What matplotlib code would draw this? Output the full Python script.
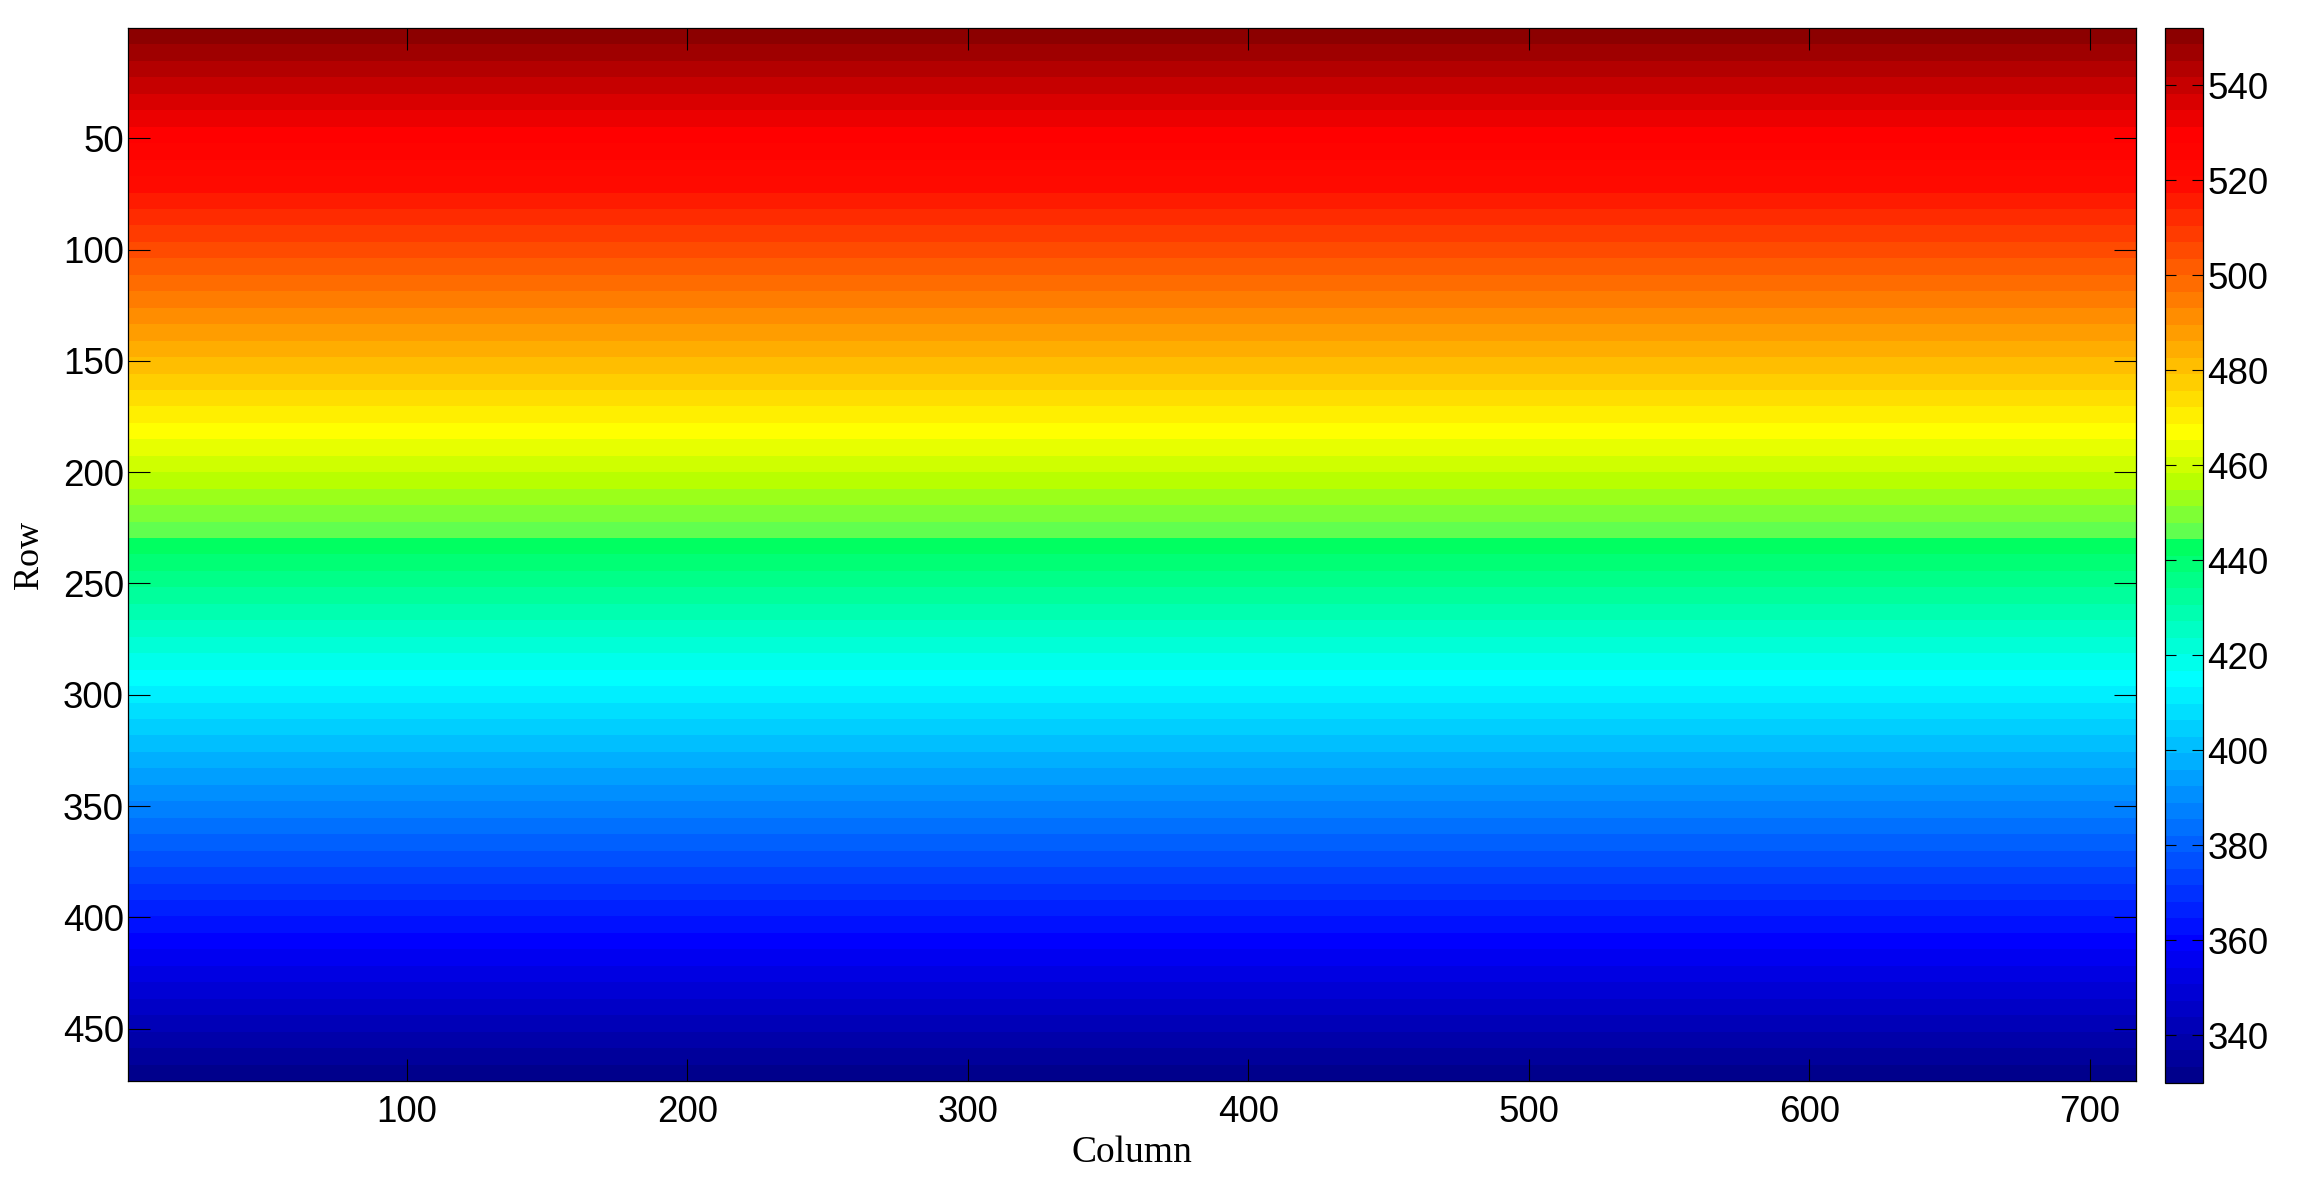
import numpy as np
import matplotlib
matplotlib.use("Agg")
import matplotlib.pyplot as plt
from matplotlib.colors import ListedColormap

# ---------------- data ----------------
# The field varies only with the row: horizontal colour strips.
column_edges = [0.5, 716.5]
row_edges = [0.5, 7.9, 15.3, 22.7, 30.1, 37.5, 44.8, 52.2, 59.6, 67.0,
             74.4, 81.8, 89.2, 96.6, 104.0, 111.4, 118.8, 126.1, 133.5, 140.9,
             148.3, 155.7, 163.1, 170.5, 177.9, 185.3, 192.7, 200.1, 207.4, 214.8,
             222.2, 229.6, 237.0, 244.4, 251.8, 259.2, 266.6, 274.0, 281.4, 288.7,
             296.1, 303.5, 310.9, 318.3, 325.7, 333.1, 340.5, 347.9, 355.3, 362.7,
             370.1, 377.4, 384.8, 392.2, 399.6, 407.0, 414.4, 421.8, 429.2, 436.6,
             444.0, 451.4, 458.8, 466.1, 473.5]
band_values = [550.3, 546.8, 543.3, 539.9, 536.4, 532.9, 529.5, 526.0,
               522.5, 519.1, 515.6, 512.1, 508.6, 505.2, 501.7, 498.2,
               494.8, 491.3, 487.8, 484.4, 480.9, 477.4, 474.0, 470.5,
               467.0, 463.6, 460.1, 456.6, 453.1, 449.7, 446.2, 442.7,
               439.3, 435.8, 432.3, 428.9, 425.4, 421.9, 418.5, 415.0,
               411.5, 408.1, 404.6, 401.1, 397.6, 394.2, 390.7, 387.2,
               383.8, 380.3, 376.8, 373.4, 369.9, 366.4, 363.0, 359.5,
               356.0, 352.6, 349.1, 345.6, 342.1, 338.7, 335.2, 331.7]
value_min, value_max = 330.0, 552.0

x_ticks = [100, 200, 300, 400, 500, 600, 700]
y_ticks = [50, 100, 150, 200, 250, 300, 350, 400, 450]
cbar_ticks = [340, 360, 380, 400, 420, 440, 460, 480, 500, 520, 540]

# ---------------- colormap (64 levels, jet-like) ----------------
n_levels = 64
cmap_levels = [0, 8, 24, 32, 33, 36, 39, 54, 57, 63]
cmap_red = [0.0, 0.0, 0.0, 0.0, 0.38, 0.72, 1.0, 1.0, 1.0, 0.55]
cmap_green = [0.0, 0.0, 1.0, 1.0, 1.0, 1.0, 1.0, 0.04, 0.0, 0.0]
cmap_blue = [0.55, 1.0, 1.0, 0.38, 0.31, 0.0, 0.0, 0.0, 0.0, 0.0]
lv = np.arange(n_levels)
colors = np.column_stack([np.interp(lv, cmap_levels, cmap_red),
                          np.interp(lv, cmap_levels, cmap_green),
                          np.interp(lv, cmap_levels, cmap_blue)])
cmap = ListedColormap(colors)

# ---------------- figure ----------------
W, H = 2303, 1202
fig = plt.figure(figsize=(W / 100, H / 100), dpi=100)
ax_l, ax_r, ax_t, ax_b = 128, 2136, 28, 1081
ax = fig.add_axes([ax_l / W, 1 - ax_b / H, (ax_r - ax_l) / W, (ax_b - ax_t) / H])
cb_l, cb_r, cb_t, cb_b = 2165, 2203, 28, 1083
cax = fig.add_axes([cb_l / W, 1 - cb_b / H, (cb_r - cb_l) / W, (cb_b - cb_t) / H])

C = np.array(band_values)[:, None]
mesh = ax.pcolormesh(column_edges, row_edges, C, cmap=cmap,
                     vmin=value_min, vmax=value_max, shading="flat")
ax.set_xlim(column_edges[0], column_edges[-1])
ax.set_ylim(row_edges[-1], row_edges[0])

tick_font = "Liberation Sans"
label_font = "Liberation Serif"
ax.set_xticks(x_ticks)
ax.set_yticks(y_ticks)
ax.tick_params(axis="both", direction="in", length=15.5, width=0.8,
               top=True, right=True, labelsize=26.5, colors="black")
ax.tick_params(axis="x", pad=10)
ax.tick_params(axis="y", pad=3)
for lab in ax.get_xticklabels() + ax.get_yticklabels():
    lab.set_fontfamily(tick_font)
for sp in ax.spines.values():
    sp.set_linewidth(0.9)
    sp.set_color("black")

ax.set_xlabel("Column", fontfamily=label_font, fontsize=27, labelpad=4)
ax.set_ylabel("Row", fontfamily=label_font, fontsize=26, labelpad=12)

cb = fig.colorbar(mesh, cax=cax, ticks=cbar_ticks)
cb.outline.set_linewidth(0.9)
cb.outline.set_edgecolor("black")
cax.yaxis.set_ticks_position("both")
cax.tick_params(axis="y", direction="in", length=8, width=0.8,
                left=True, right=True, labelleft=False, labelright=True,
                labelsize=26.5, pad=3)
for lab in cax.get_yticklabels():
    lab.set_fontfamily(tick_font)

fig.savefig("out.png", dpi=100, facecolor="white")
